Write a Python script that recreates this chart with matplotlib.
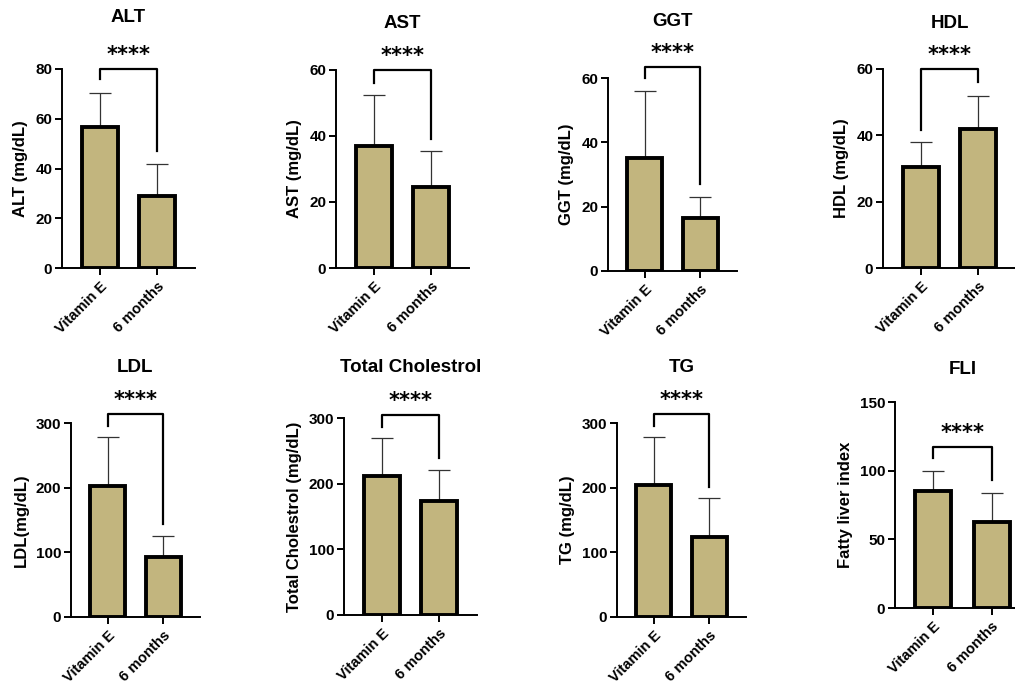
import matplotlib.pyplot as plt

plt.rcParams['font.family'] = ['Liberation Sans', 'DejaVu Sans']
plt.rcParams['font.weight'] = 'bold'

W, H = 1015, 686

groups = ['Vitamin E', '6 months']

titles = ['ALT', 'AST', 'GGT', 'HDL', 'LDL', 'Total Cholestrol', 'TG', 'FLI']
ylabels = ['ALT (mg/dL)', 'AST (mg/dL)', 'GGT (mg/dL)', 'HDL (mg/dL)',
           'LDL(mg/dL)', 'Total Cholestrol (mg/dL)', 'TG (mg/dL)', 'Fatty liver index']
means = [[56.5, 29], [37, 24.5], [35, 16.5], [30.5, 42],
         [203, 93], [211, 174], [204, 123], [85, 62.5]]
sds = [[14, 13], [15.5, 11], [21, 6.5], [7.5, 10],
       [76, 33], [59, 47], [75, 61], [15, 21.5]]
ymaxes = [80, 60, 60, 60, 300, 300, 300, 150]
ysteps = [20, 20, 20, 20, 100, 100, 100, 50]
# bracket: top, left leg end, right leg end
brackets = [[80, 76, 47], [60, 56, 39], [63.5, 60, 27], [60, 41.5, 56],
            [314, 296, 144], [305, 287, 239], [314, 296, 201], [117.5, 109, 93.5]]
sig = '****'

# panel placement in pixels: left, right, y of 0, y of top tick, title y
boxes = [(62, 195, 268, 69, 17), (336, 469, 268, 70, 23), (608, 737, 271, 78, 21),
         (883, 1016, 268, 69, 23), (71, 200, 617, 423, 368), (344, 477, 615, 418, 368),
         (617, 746, 617, 423, 367), (895, 1030, 608, 402, 370)]

fill = '#C2B57E'

fig = plt.figure(figsize=(W / 100, H / 100), dpi=100)

for i in range(8):
    l, r, y0, yt, ty = boxes[i]
    ax = fig.add_axes([l / W, 1 - y0 / H, (r - l) / W, (y0 - yt) / H])
    x = [0, 1]
    ax.bar(x, means[i], width=0.62, color=fill, edgecolor='black', linewidth=2.8, zorder=2)
    ax.errorbar(x, means[i], yerr=[[0, 0], sds[i]], fmt='none', ecolor='#333333',
                elinewidth=0.9, capsize=8, capthick=0.9, zorder=1)
    ax.set_xlim(-0.66, 1.66)
    ax.set_ylim(0, ymaxes[i])
    ax.set_yticks(range(0, ymaxes[i] + 1, ysteps[i]))
    ax.set_xticks(x)
    ax.set_xticklabels(groups, rotation=45, ha='right', rotation_mode='anchor',
                       fontsize=10.5, fontweight='bold')
    ax.tick_params(axis='y', labelsize=11, width=1.4, length=5, pad=2)
    ax.tick_params(axis='x', width=1.4, length=5, pad=3)
    for lab in ax.get_yticklabels():
        lab.set_fontweight('bold')
    ax.spines['top'].set_visible(False)
    ax.spines['right'].set_visible(False)
    ax.spines['left'].set_linewidth(1.4)
    ax.spines['bottom'].set_linewidth(1.4)
    ax.set_ylabel(ylabels[i], fontsize=12, fontweight='bold', labelpad=5)
    top, lft, rgt = brackets[i]
    ax.plot([0, 0, 1, 1], [lft, top, top, rgt], color='black', lw=1.6,
            clip_on=False, zorder=3)
    ax.text(0.5, top + ymaxes[i] * 0.02, sig, ha='center', va='bottom',
            fontsize=15, fontweight='bold', family='DejaVu Sans', clip_on=False)
    fig.text((l + r) / 2 / W, 1 - ty / H, titles[i], ha='center', va='center',
             fontsize=13.5, fontweight='bold')

fig.savefig('out.png', dpi=100)
